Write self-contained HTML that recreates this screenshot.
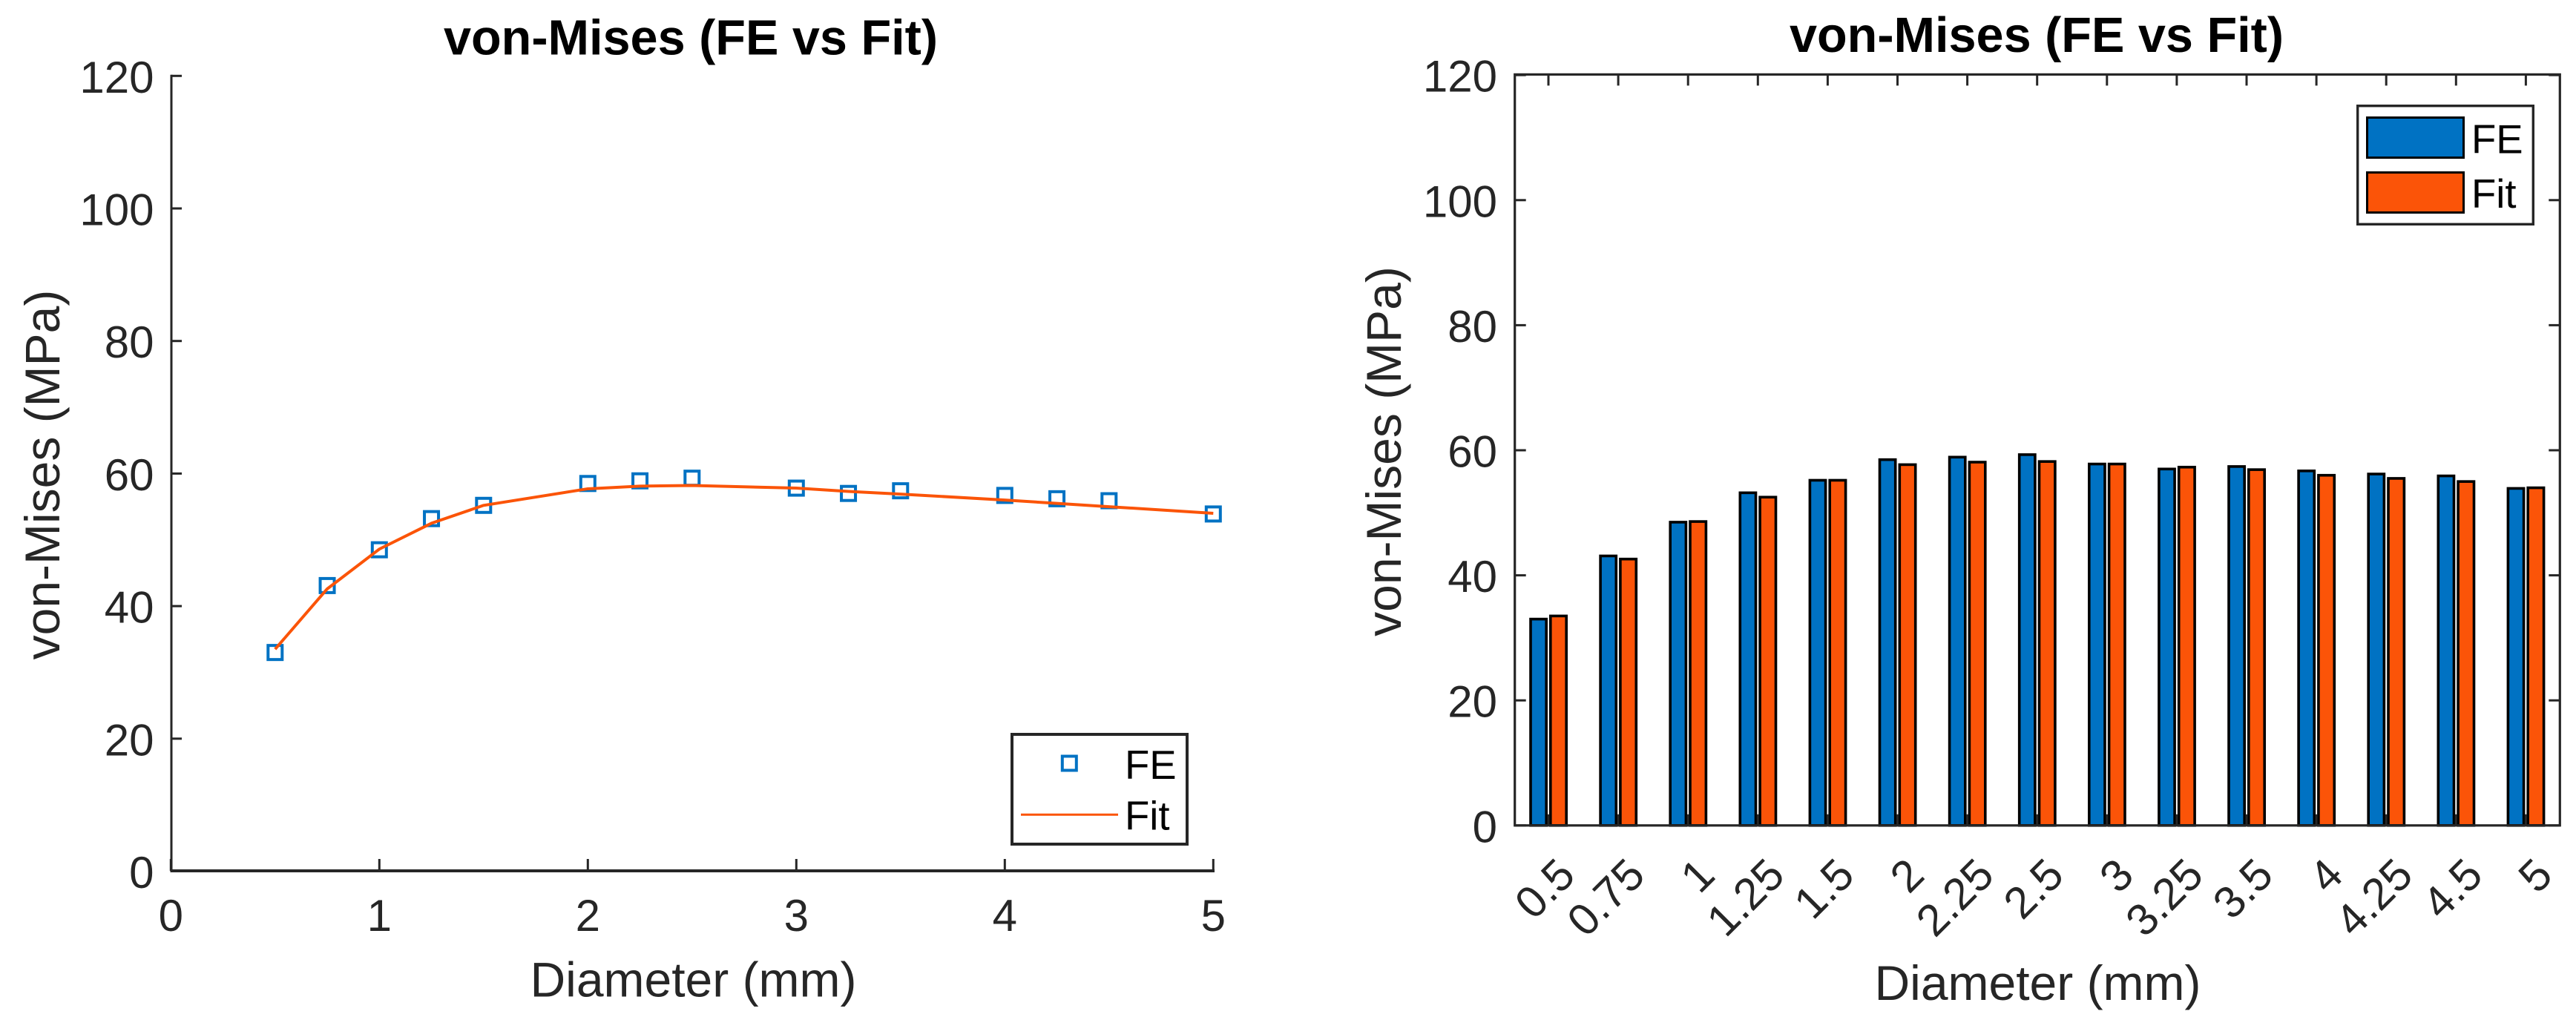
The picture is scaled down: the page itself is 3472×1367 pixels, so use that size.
<!DOCTYPE html>
<html lang="en">
<head>
<meta charset="utf-8">
<title>von-Mises (FE vs Fit)</title>
<style>
html,body{margin:0;padding:0;background:#fff;}
svg{display:block;font-family:"Liberation Sans",Arial,sans-serif;}
.tick{font-size:60px;fill:#262626;}
.lab{font-size:66px;fill:#262626;text-anchor:middle;}
.ttl{font-size:66.6px;font-weight:bold;fill:#000;text-anchor:middle;}
.leg{font-size:54.5px;fill:#000;}
</style>
</head>
<body>
<svg id="fig" xmlns="http://www.w3.org/2000/svg" width="3472" height="1367" viewBox="0 0 3472 1367">
  <rect x="0" y="0" width="3472" height="1367" fill="#fff"/>
  <g id="left">
    <text class="ttl" x="931" y="73.3">von-Mises (FE vs Fit)</text>
    <text class="lab" x="934.5" y="1343.5">Diameter (mm)</text>
    <text class="lab" transform="translate(80 640) rotate(-90)">von-Mises (MPa)</text>
  </g>
  <g id="right">
    <text class="ttl" x="2745" y="70">von-Mises (FE vs Fit)</text>
    <text class="lab" x="2746.5" y="1348">Diameter (mm)</text>
    <text class="lab" transform="translate(1888 608.5) rotate(-90)">von-Mises (MPa)</text>
  </g>
</svg>
<script>
const diameters = [0.5, 0.75, 1, 1.25, 1.5, 2, 2.25, 2.5, 3, 3.25, 3.5, 4, 4.25, 4.5, 5];
const feValues = [33, 43.1, 48.5, 53.2, 55.2, 58.5, 58.9, 59.3, 57.8, 57, 57.4, 56.7, 56.2, 55.9, 53.9];
const fitValues = [33.5, 42.6, 48.6, 52.5, 55.2, 57.7, 58.1, 58.2, 57.8, 57.3, 56.9, 56, 55.5, 55, 54];
const yTickLabels = [0, 20, 40, 60, 80, 100, 120];
const xTickLabels = [0, 1, 2, 3, 4, 5];
const categoryLabels = ['0.5', '0.75', '1', '1.25', '1.5', '2', '2.25', '2.5', '3', '3.25', '3.5', '4', '4.25', '4.5', '5'];

const NS = 'http://www.w3.org/2000/svg';
const AXC = '#262626';
const BLUE = '#0072C3';
const ORANGE = '#FB5408';

function mk(parent, tag, attrs, txt) {
  const e = document.createElementNS(NS, tag);
  for (const k in attrs) e.setAttribute(k, attrs[k]);
  if (txt !== undefined) e.textContent = txt;
  parent.appendChild(e);
  return e;
}

/* axis functions */
const lx = v => 230.3 + v * 281;
const ly = v => 1174.5 - v * 8.935;
const rx = i => 2087 + i * 94.1;
const ry = v => 1112.8 - v * 8.43;

/* ---------- left chart ---------- */
const L = document.getElementById('left');
const LT = 102.3, LB = 1174, LL = 231, LR = 1636;

feValues.forEach((v, i) => {
  const m = mk(L, 'rect', {x: lx(diameters[i]) - 9.5, y: ly(v) - 9.5, width: 19, height: 19, fill: 'none', stroke: BLUE, 'stroke-width': 4});
  
  
});

const fitPoints = fitValues.map((v, i) => lx(diameters[i]) + ',' + ly(v)).join(' ');
const fitLine = mk(L, 'polyline', {points: fitPoints, fill: 'none', stroke: ORANGE, 'stroke-width': 4, 'stroke-linejoin': 'round'});



const lyAxis = mk(L, 'line', {x1: LL, y1: LT - 1.5, x2: LL, y2: LB, stroke: AXC, 'stroke-width': 3});



const lxAxis = mk(L, 'line', {x1: LL - 1.5, y1: LB, x2: LR + 1, y2: LB, stroke: AXC, 'stroke-width': 4});



yTickLabels.forEach(t => {
  const y = ly(t);
  const k = mk(L, 'line', {x1: LL, y1: y, x2: LL + 14, y2: y, stroke: AXC, 'stroke-width': 3});
  
  
  const s = mk(L, 'text', {class: 'tick', x: 207.5, y: y + 22.5, 'text-anchor': 'end'}, t);
  
  
});

xTickLabels.forEach(t => {
  const x = lx(t);
  const k = mk(L, 'line', {x1: x, y1: LB, x2: x, y2: LB - 16, stroke: AXC, 'stroke-width': 3});
  
  
  const s = mk(L, 'text', {class: 'tick', x: x, y: 1255, 'text-anchor': 'middle'}, t);
  
  
});

const lLegend = mk(L, 'g', {});


const lBox = mk(lLegend, 'rect', {x: 1364, y: 990, width: 236, height: 148, fill: '#fff', stroke: AXC, 'stroke-width': 4});


const lKey1 = mk(lLegend, 'rect', {x: 1431.8, y: 1019.5, width: 19, height: 19, fill: 'none', stroke: BLUE, 'stroke-width': 4});


const lKey2 = mk(lLegend, 'line', {x1: 1376, y1: 1098.3, x2: 1507, y2: 1098.3, stroke: ORANGE, 'stroke-width': 3});


const lText1 = mk(lLegend, 'text', {class: 'leg', x: 1516, y: 1050}, 'FE');


const lText2 = mk(lLegend, 'text', {class: 'leg', x: 1516, y: 1118.7}, 'Fit');



/* ---------- right chart ---------- */
const R = document.getElementById('right');
const RT = 100.4, RB = 1112.8, RL = 2041.7, RR = 3450.3;

const drawBar = (x0, x1, v, color, name) => {
  const top = ry(v);
  const b = mk(R, 'rect', {x: x0, y: top, width: x1 - x0, height: RB - top, fill: color, stroke: '#000', 'stroke-width': 3.6});
  
  
};

feValues.forEach((v, i) => drawBar(rx(i) - 24, rx(i) - 2.8, v, BLUE, 'bar-fe'));
fitValues.forEach((v, i) => drawBar(rx(i) + 2.8, rx(i) + 24.2, v, ORANGE, 'bar-fit'));

const rBox = mk(R, 'rect', {x: RL, y: RT, width: RR - RL, height: RB - RT, fill: 'none', stroke: AXC, 'stroke-width': 3.2});



yTickLabels.forEach(t => {
  const y = ry(t);
  const k1 = mk(R, 'line', {x1: RL, y1: y, x2: RL + 15, y2: y, stroke: AXC, 'stroke-width': 3});
  
  
  const k2 = mk(R, 'line', {x1: RR, y1: y, x2: RR - 15, y2: y, stroke: AXC, 'stroke-width': 3});
  
  
  const s = mk(R, 'text', {class: 'tick', x: 2018, y: y + 22.5, 'text-anchor': 'end'}, t);
  
  
});

categoryLabels.forEach((t, i) => {
  const x = rx(i);
  const k1 = mk(R, 'line', {x1: x, y1: RB, x2: x, y2: RB - 15, stroke: AXC, 'stroke-width': 3});
  
  
  const k2 = mk(R, 'line', {x1: x, y1: RT, x2: x, y2: RT + 15, stroke: AXC, 'stroke-width': 3});
  
  
  const s = mk(R, 'text', {class: 'tick', 'text-anchor': 'end', transform: 'translate(' + (x + 39) + ' 1183) rotate(-45)'}, t);
  
  
});

const rLegend = mk(R, 'g', {});


const rLegBox = mk(rLegend, 'rect', {x: 3177.7, y: 142.7, width: 236.6, height: 159.6, fill: '#fff', stroke: AXC, 'stroke-width': 3.4});


const rKey1 = mk(rLegend, 'rect', {x: 3190.5, y: 158.5, width: 130, height: 54, fill: BLUE, stroke: '#000', 'stroke-width': 3});


const rKey2 = mk(rLegend, 'rect', {x: 3190.5, y: 232.5, width: 130, height: 54, fill: ORANGE, stroke: '#000', 'stroke-width': 3});


const rText1 = mk(rLegend, 'text', {class: 'leg', x: 3331, y: 206.7}, 'FE');


const rText2 = mk(rLegend, 'text', {class: 'leg', x: 3331, y: 280}, 'Fit');


</script>
</body>
</html>
